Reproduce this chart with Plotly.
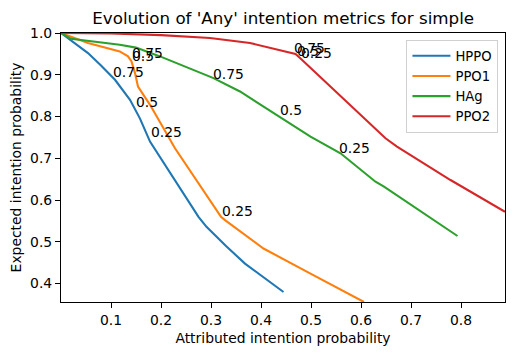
import plotly.graph_objects as go

# ---- data ----
series_names = ["HPPO", "PPO1", "HAg", "PPO2"]
series_colors = ["#1f77b4", "#ff7f0e", "#2ca02c", "#d62728"]

hppo_x = [0.0, 0.035, 0.054, 0.08, 0.108, 0.138, 0.158, 0.178, 0.228, 0.275, 0.291, 0.33, 0.368, 0.445]
hppo_y = [1.0, 0.968, 0.952, 0.922, 0.888, 0.84, 0.795, 0.74, 0.648, 0.56, 0.536, 0.49, 0.448, 0.38]

ppo1_x = [0.0, 0.054, 0.1175, 0.134, 0.141, 0.148, 0.154, 0.178, 0.228, 0.271, 0.32, 0.328, 0.405, 0.499, 0.606]
ppo1_y = [1.0, 0.976, 0.956, 0.944, 0.932, 0.904, 0.872, 0.828, 0.724, 0.648, 0.56, 0.552, 0.484, 0.424, 0.356]

hag_x = [0.0, 0.02, 0.1175, 0.15, 0.198, 0.305, 0.358, 0.499, 0.559, 0.629, 0.646, 0.793]
hag_y = [1.0, 0.986, 0.972, 0.965, 0.944, 0.892, 0.86, 0.752, 0.712, 0.644, 0.632, 0.514]

ppo2_x = [0.0, 0.1, 0.2, 0.298, 0.378, 0.469, 0.478, 0.649, 0.672, 0.779, 0.888]
ppo2_y = [1.0, 0.999, 0.995, 0.988, 0.976, 0.950, 0.940, 0.748, 0.728, 0.648, 0.572]

# threshold labels per series
hppo_labels = ["0.75", "0.5", "0.25"]
hppo_label_x = [0.1035, 0.1496, 0.179]
hppo_label_y = [0.895, 0.824, 0.752]

ppo1_labels = ["0.75", "0.5", "0.25"]
ppo1_label_x = [0.141, 0.141, 0.321]
ppo1_label_y = [0.941, 0.934, 0.562]

hag_labels = ["0.75", "0.5", "0.25"]
hag_label_x = [0.303, 0.437, 0.555]
hag_label_y = [0.890, 0.804, 0.713]

ppo2_labels = ["0.75", "0.5", "0.25"]
ppo2_label_x = [0.465, 0.472, 0.479]
ppo2_label_y = [0.953, 0.946, 0.939]

x_ticks = [0.1, 0.2, 0.3, 0.4, 0.5, 0.6, 0.7, 0.8]
y_ticks = [0.4, 0.5, 0.6, 0.7, 0.8, 0.9, 1.0]

title_text = "Evolution of 'Any' intention metrics for simple"
x_title = "Attributed intention probability"
y_title = "Expected intention probability"

FONT = "DejaVu Sans"
FS = 13.9

xs = [hppo_x, ppo1_x, hag_x, ppo2_x]
ys = [hppo_y, ppo1_y, hag_y, ppo2_y]
labs = [
    (hppo_labels, hppo_label_x, hppo_label_y),
    (ppo1_labels, ppo1_label_x, ppo1_label_y),
    (hag_labels, hag_label_x, hag_label_y),
    (ppo2_labels, ppo2_label_x, ppo2_label_y),
]

fig = go.Figure()
for name, color, x, y in zip(series_names, series_colors, xs, ys):
    fig.add_trace(go.Scatter(x=x, y=y, mode="lines", name=name,
                             line=dict(color=color, width=2.1)))

annotations = []
for texts, lx, ly in labs:
    for t, a, b in zip(texts, lx, ly):
        annotations.append(dict(x=a, y=b, xref="x", yref="y", text=t, showarrow=False,
                                xanchor="left", yanchor="bottom", xshift=-2, yshift=-5,
                                font=dict(family=FONT, size=FS, color="black")))

fig.update_layout(
    width=513, height=355,
    template="none",
    paper_bgcolor="white", plot_bgcolor="white",
    margin=dict(l=61, r=8, t=33, b=53, pad=0),
    font=dict(family=FONT, size=FS, color="black"),
    title=dict(text=title_text, x=0.552, xref="container", y=1 - 18.5 / 355, yref="container",
               xanchor="center", yanchor="middle",
               font=dict(family=FONT, size=16.7, color="black")),
    annotations=annotations,
    showlegend=True,
    legend=dict(x=0.778, y=0.975, xanchor="left", yanchor="top",
                bgcolor="rgba(255,255,255,0.8)", bordercolor="#d0d0d0", borderwidth=1,
                font=dict(family=FONT, size=13.2, color="black"),
                itemwidth=38, tracegroupgap=0),
)

fig.update_xaxes(range=[0.0, 0.888], tickvals=x_ticks, ticktext=[f"{v:.1f}" for v in x_ticks],
                 showgrid=False, zeroline=False, showline=True, mirror=True,
                 linecolor="black", linewidth=1.1, ticks="outside", ticklen=5, tickwidth=1.1,
                 tickcolor="black", automargin=False,
                 tickfont=dict(family=FONT, size=FS, color="black"),
                 title=dict(text=x_title, standoff=6, font=dict(family=FONT, size=FS, color="black")))
fig.update_yaxes(range=[0.356, 1.0], tickvals=y_ticks, ticktext=[f"{v:.1f}" for v in y_ticks],
                 showgrid=False, zeroline=False, showline=True, mirror=True,
                 linecolor="black", linewidth=1.1, ticks="outside", ticklen=5, tickwidth=1.1,
                 tickcolor="black", automargin=False,
                 tickfont=dict(family=FONT, size=FS, color="black"),
                 title=dict(text=y_title, standoff=5, font=dict(family=FONT, size=FS, color="black")))

fig.write_html("out.html", config={"displayModeBar": False},
               post_script="document.body.style.margin='0';")
